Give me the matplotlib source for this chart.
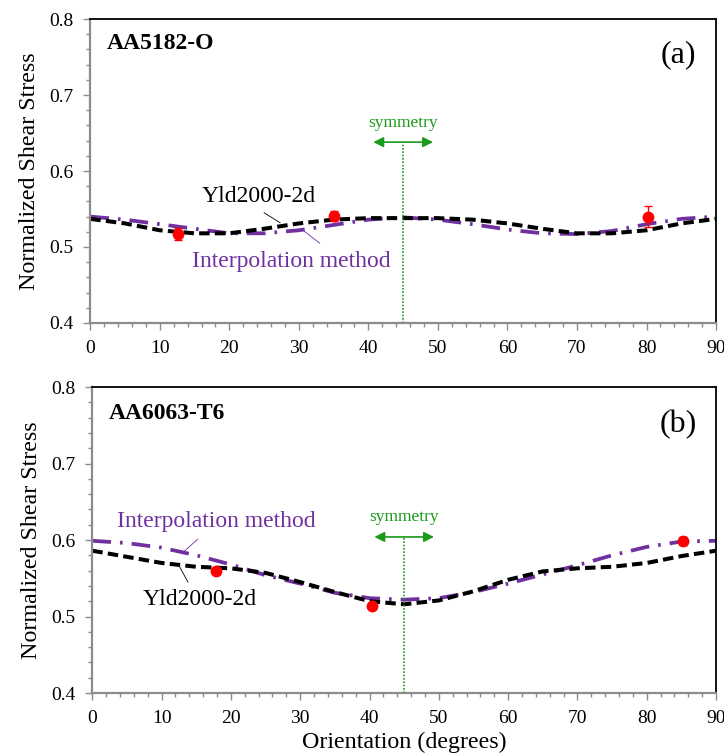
import numpy as np
import matplotlib
matplotlib.use('Agg')
import matplotlib.pyplot as plt
from matplotlib.ticker import MultipleLocator, FormatStrFormatter

plt.rcParams['font.family'] = ['Liberation Serif', 'DejaVu Serif']

# orientation grid of the model curves (degrees)
angles = [0, 5, 10, 15, 20, 25, 30, 35, 40, 45, 50, 55, 60, 65, 70, 75, 80, 85, 90]

# (a) AA5182-O
yld_a = [0.537, 0.531, 0.522, 0.518, 0.518, 0.524, 0.531, 0.536, 0.538, 0.538,
         0.538, 0.536, 0.531, 0.524, 0.518, 0.518, 0.522, 0.531, 0.537]
interp_a = [0.540, 0.536, 0.530, 0.524, 0.518, 0.518, 0.522, 0.529, 0.536, 0.539,
            0.536, 0.530, 0.523, 0.518, 0.517, 0.521, 0.530, 0.537, 0.540]
exp_ang_a = [12.6, 35.1, 80.2]
exp_val_a = [0.517, 0.541, 0.540]
exp_err_a = [0.008, 0.007, 0.014]

# (b) AA6063-T6
yld_b = [0.586, 0.578, 0.570, 0.565, 0.563, 0.557, 0.545, 0.532, 0.520, 0.516,
         0.521, 0.533, 0.548, 0.559, 0.563, 0.565, 0.570, 0.579, 0.586]
interp_b = [0.599, 0.596, 0.590, 0.580, 0.568, 0.554, 0.543, 0.531, 0.524, 0.522,
            0.524, 0.532, 0.543, 0.555, 0.567, 0.580, 0.591, 0.598, 0.599]
exp_ang_b = [17.9, 40.3, 85.2]
exp_val_b = [0.560, 0.514, 0.599]
exp_err_b = [0.004, 0.004, 0.005]

GREY = '#8c8c8c'
PURPLE = '#7030a0'
GREEN = '#1a9a1a'


def style_axes(ax):
    ax.set_xlim(0, 90)
    ax.set_ylim(0.4, 0.8)
    ax.xaxis.set_major_locator(MultipleLocator(10))
    ax.xaxis.set_minor_locator(MultipleLocator(2))
    ax.yaxis.set_major_locator(MultipleLocator(0.1))
    ax.yaxis.set_minor_locator(MultipleLocator(0.02))
    ax.yaxis.set_major_formatter(FormatStrFormatter('%.1f'))
    for side in ['left', 'bottom']:
        ax.spines[side].set_color(GREY)
        ax.spines[side].set_linewidth(1.6)
    for side in ['top', 'right']:
        ax.spines[side].set_color('black')
        ax.spines[side].set_linewidth(1.3)
    ax.tick_params(which='both', direction='out', color=GREY, labelsize=14,
                   width=1.0)
    ax.tick_params(axis='y', pad=7)
    ax.tick_params(axis='x', pad=7)
    ax.tick_params(which='major', length=5)
    ax.tick_params(which='minor', length=3)
    ax.set_ylabel('Normalized Shear Stress', fontsize=17.3, labelpad=7)


def draw_panel(ax, yld, interp, ex, ey, ee):
    ax.plot(angles, interp, color=PURPLE, lw=2.7, dashes=(5.0, 2.4, 0.7, 2.4))
    ax.plot(angles, yld, color='black', lw=2.9, dashes=(2.6, 1.3))
    ax.errorbar(ex, ey, yerr=ee, fmt='o', color='red', ms=7.5, capsize=3,
                elinewidth=1, capthick=1, zorder=5)


fig = plt.figure(figsize=(7.24, 7.55), dpi=100)
ax1 = fig.add_axes([0.1247, 0.5722, 0.8643, 0.4026])
ax2 = fig.add_axes([0.1275, 0.0821, 0.8615, 0.4053])

for ax in (ax1, ax2):
    style_axes(ax)

draw_panel(ax1, yld_a, interp_a, exp_ang_a, exp_val_a, exp_err_a)
draw_panel(ax2, yld_b, interp_b, exp_ang_b, exp_val_b, exp_err_b)

# symmetry markers
for ax, ys in ((ax1, 0.638), (ax2, 0.604)):
    ax.plot([45, 45], [0.4, ys], color=GREEN, lw=1.2, ls=(0, (1, 1)))
    ax.annotate('', xy=(40.3, ys), xytext=(49.7, ys),
                arrowprops=dict(arrowstyle='<|-|>', color=GREEN, lw=1.2,
                                mutation_scale=15))
    ax.text(45, ys + 0.015, 'symmetry', color=GREEN, fontsize=12.5,
            ha='center', va='bottom')

# panel labels
ax1.text(2.4, 0.768, 'AA5182-O', fontsize=17, fontweight='bold', va='center')
ax1.text(87.2, 0.753, '(a)', fontsize=23, ha='right', va='center')
ax2.text(2.4, 0.766, 'AA6063-T6', fontsize=17, fontweight='bold', va='center')
ax2.text(87.2, 0.751, '(b)', fontsize=23, ha='right', va='center')

# curve labels with leader lines
ax1.text(24.2, 0.566, 'Yld2000-2d', fontsize=17, ha='center', va='center')
ax1.plot([25.0, 27.3], [0.545, 0.532], color='black', lw=0.6)
ax1.text(28.9, 0.481, 'Interpolation method', fontsize=17, color=PURPLE,
         ha='center', va='center')
ax1.plot([30.6, 33.0], [0.522, 0.505], color=PURPLE, lw=0.6)

ax2.text(17.9, 0.624, 'Interpolation method', fontsize=17, color=PURPLE,
         ha='center', va='center')
ax2.plot([15.2, 13.1], [0.601, 0.584], color=PURPLE, lw=0.6)
ax2.text(15.5, 0.522, 'Yld2000-2d', fontsize=17, ha='center', va='center')
ax2.plot([12.6, 13.8], [0.565, 0.545], color='black', lw=0.6)

ax2.set_xlabel('Orientation (degrees)', fontsize=17.3, labelpad=4)

fig.savefig('out.png', dpi=100)
